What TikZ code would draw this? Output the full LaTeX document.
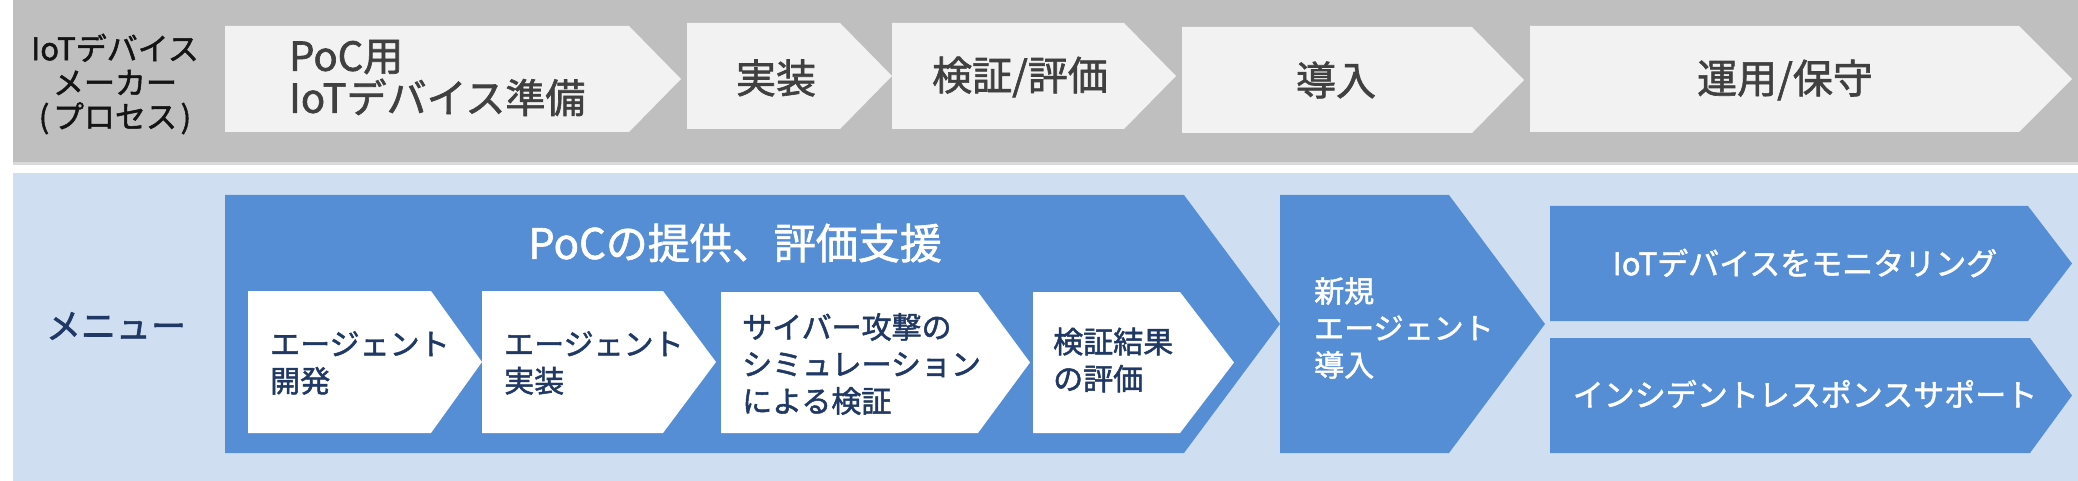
\documentclass[tikz,border=0pt]{standalone}
\usepackage{fontspec}
\setmainfont{Noto Sans CJK JP}[FakeBold=1.6]
\definecolor{graybg}{HTML}{BFBFBF}
\definecolor{grayline}{HTML}{D9D9D9}
\definecolor{lightbox}{HTML}{F2F2F2}
\definecolor{toptext}{HTML}{404040}
\definecolor{labeltext}{HTML}{141414}
\definecolor{bluebox}{HTML}{558ED5}
\definecolor{lightblue}{HTML}{CFDFF1}
\definecolor{navy}{HTML}{1F3864}
\newcommand{\pentbox}[6]{\fill[#1] (#2,#5) -- (#3,#5) -- (#4,{(#5+#6)/2}) -- (#3,#6) -- (#2,#6) -- cycle;}
\tikzset{
  toplabel/.style={inner sep=0pt, text=toptext, font=\fontsize{40}{42}\selectfont},
  sidelabel/.style={inner sep=0pt, align=center, text=labeltext, font=\fontsize{31}{34}\selectfont},
  innertext/.style={inner sep=0pt, anchor=west, align=left, text=navy, font=\fontsize{30}{37}\selectfont},
  whitetext/.style={inner sep=0pt, text=white, font=\fontsize{31}{37}\selectfont},
}
\begin{document}
\begin{tikzpicture}[x=1pt,y=-1pt]
\useasboundingbox (0,0) rectangle (2078,481);
\fill[white] (0,0) rectangle (2078,481);
% top band
\fill[graybg] (13,0) rectangle (2078,162);
\fill[grayline] (13,162) rectangle (2078,165);
% bottom band
\fill[lightblue] (13,173) rectangle (2078,481);

% top process boxes
\pentbox{lightbox}{225}{629}{681}{26}{132}
\pentbox{lightbox}{687}{840}{892}{23}{129}
\pentbox{lightbox}{892}{1124}{1176}{23}{129}
\pentbox{lightbox}{1182}{1472}{1524}{27}{133}
\pentbox{lightbox}{1530}{2019}{2072}{26}{132}

\node[sidelabel] (maker) at (115,84) {IoTデバイス\\メーカー\\(\hspace{0.12em}プロセス\hspace{0.12em})};
\node[toplabel, anchor=west, align=left] (prep) at (289,78) {PoC用\\IoTデバイス準備};
\node[toplabel] (impl) at (776,78) {実装};
\node[toplabel] (eval) at (1020,77) {検証/評価};
\node[toplabel] (intro) at (1336,80) {導入};
\node[toplabel] (ops) at (1785,80) {運用/保守};

% bottom menu
\node[inner sep=0pt, text=navy, font=\fontsize{35}{40}\selectfont] (menu) at (116,326) {メニュー};

\pentbox{bluebox}{225}{1184}{1280}{195}{453}
\node[inner sep=0pt, text=white, font=\fontsize{42}{46}\selectfont] (poc) at (735,243) {PoCの提供、評価支援};

\pentbox{white}{248}{431}{482}{291}{433}
\pentbox{white}{482}{663}{716}{291}{433}
\pentbox{white}{721}{978}{1030}{292}{433}
\pentbox{white}{1033}{1180}{1234}{292}{433}
\node[innertext] (dev) at (270,363) {エージェント\\開発};
\node[innertext] (deploy) at (504,363) {エージェント\\実装};
\node[innertext] (sim) at (742,364) {サイバー攻撃の\\シミュレーション\\による検証};
\node[innertext] (res) at (1053,360) {検証結果\\の評価};

\pentbox{bluebox}{1280}{1449}{1545}{195}{453}
\node[innertext, text=white] (new) at (1314,328) {新規\\エージェント\\導入};

\pentbox{bluebox}{1550}{2028}{2072}{206}{321}
\pentbox{bluebox}{1550}{2030}{2072}{338}{453}
\node[whitetext] (mon) at (1805,263) {IoTデバイスをモニタリング};
\node[whitetext] (irs) at (1805,394) {インシデントレスポンスサポート};
\end{tikzpicture}
\end{document}
